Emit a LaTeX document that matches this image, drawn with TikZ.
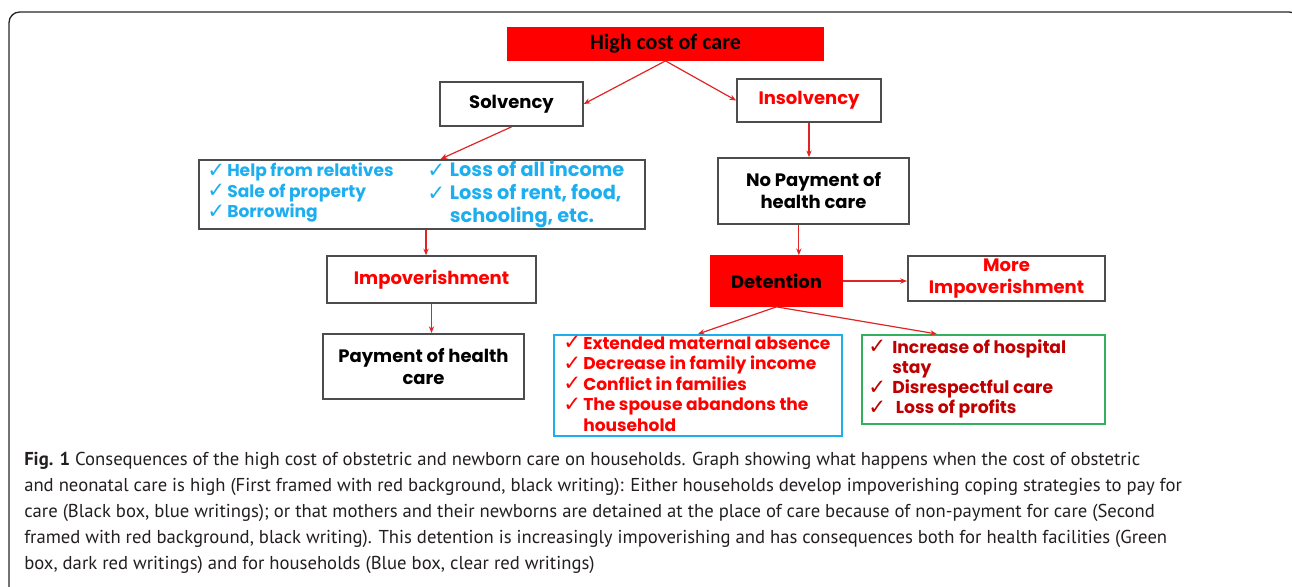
\documentclass[tikz,border=0pt]{standalone}
\usepackage{fontspec}
\setmainfont{PT Sans}
\newfontfamily\boxfont{Poppins}
\newfontfamily\titlefont{Carlito}
\newfontfamily\symfont{DejaVu Sans}
\usetikzlibrary{arrows.meta,calc}
\definecolor{boxred}{HTML}{FF0000}
\definecolor{skyblue}{HTML}{1DAEEF}
\definecolor{darkred}{HTML}{C00000}
\definecolor{framegreen}{HTML}{33B05E}
\definecolor{arrowred}{HTML}{E02424}
\definecolor{captiongray}{HTML}{231F20}
\newcommand{\ck}{\makebox[15pt][l]{\raisebox{-0.5pt}{\symfont\mdseries\fontsize{16}{16}\selectfont\char"2713}}}
\begin{document}
\begin{tikzpicture}[x=0.75pt,y=-0.75pt,
every node/.style={font=\boxfont\bfseries\fontsize{13.5}{16.5}\selectfont},
box/.style={%
draw=black!70,
line width=1.3pt,
align=center,
inner sep=0pt
},
redbox/.style={%
box,
fill=boxred,
draw=boxred
},
list/.style={%
anchor=west,
align=left,
inner sep=0pt,
font=\boxfont\bfseries\fontsize{12.8}{15.4}\selectfont
},
arr/.style={%
draw=arrowred,
line width=0.9pt,
-{Stealth[length=5pt,width=4pt]}
},
caption/.style={%
font=\fontsize{14}{19.5}\selectfont,
text=captiongray,
anchor=north west,
align=left,
inner sep=0pt
}]
\useasboundingbox (0,0) rectangle (1292,586);
\clip (0,0) rectangle (1292,586);
% outer frame
\draw[black!85,line width=1pt,rounded corners=8pt] (9,600) -- (9,12) -- (1300,12) -- (1300,600);
% boxes
\node[redbox,minimum width=236pt,minimum height=24pt,font=\titlefont\bfseries\fontsize{16.5}{18}\selectfont](cost)at(665.5,44){High cost of care};
\node[box,minimum width=107pt,minimum height=33pt](solv)at(511.5,104){Solvency};
\node[box,minimum width=108pt,minimum height=32pt,text=boxred](insolv)at(809,100.5){Insolvency};
\node[box,minimum width=334.5pt,minimum height=52pt](coping)at(422,194.5){};
\node[box,minimum width=157pt,minimum height=35pt,text=boxred](impov)at(431.5,279.5){Impoverishment};
\node[box,minimum width=151pt,minimum height=49pt](pay)at(423.5,366.5){Payment of health\\care};
\node[box,minimum width=143pt,minimum height=49.5pt](nopay)at(813.5,191){No Payment of\\health care};
\node[redbox,minimum width=98pt,minimum height=37.5pt](deten)at(776.5,281){Detention};
\node[box,minimum width=148pt,minimum height=34pt,text=boxred](more)at(1006.5,278.5){More\\Impoverishment};
\node[box,draw=skyblue,minimum width=216pt,minimum height=76pt](house)at(698,385.5){};
\node[box,draw=framegreen,minimum width=182pt,minimum height=67pt](facil)at(983.5,379.5){};
% check lists
\node[list,text=skyblue](copeA)at(207,193){%
\begin{tabular}{@{}l@{}l@{}}
\ck & Help from relatives\\
\ck & Sale of property\\
\ck & Borrowing
\end{tabular}};
\node[list,text=skyblue,font=\boxfont\bfseries\fontsize{14.5}{17.25}\selectfont](copeB)at(427,195){%
\begin{tabular}{@{}l@{\hspace{2pt}}l@{}}
\ck & Loss of all income\\
\ck & Loss of rent, food,\\
 & schooling, etc.
\end{tabular}};
\node[list,text=boxred](houseL)at(563,386){%
\begin{tabular}{@{}l@{}l@{}}
\ck & Extended maternal absence\\
\ck & Decrease in family income\\
\ck & Conflict in families\\
\ck & The spouse abandons the\\
 & household
\end{tabular}};
\node[list,text=darkred,font=\boxfont\bfseries\fontsize{12.9}{15.2}\selectfont](facilL)at(868,379.5){%
\begin{tabular}{@{}l@{\hspace{3pt}}l@{}}
\ck & Increase of hospital\\
 & stay\\
\ck & Disrespectful care\\
\ck & \ Loss of profits
\end{tabular}};
% connectors
\draw[arr] (cost.south) -- (solv.east);
\draw[arr] (cost.south) -- (insolv.west);
\draw[arr] (solv.south) -- ([xshift=14pt]coping.north);
\draw[arr] ([xshift=3pt]coping.south) -- ([xshift=3pt]coping.south |- impov.north);
\draw[arr] (impov.south) -- (impov.south |- pay.north);
\draw[arr] (insolv.south) -- (insolv.south |- nopay.north);
\draw[arr] ([xshift=-11pt]nopay.south) -- ([xshift=-11pt]nopay.south |- deten.north);
\draw[arr] (deten.east) -- (deten.east -| more.west);
\draw[arr] (deten.south) -- (house.north);
\draw[arr] (deten.south) -- ([xshift=-35pt]facil.north);
% caption
\node[caption](cap)at(24,452){%
\textbf{Fig. 1} Consequences of the high cost of obstetric and newborn care on households. Graph showing what happens when the cost of obstetric\\
and neonatal care is high (First framed with red background, black writing): Either households develop impoverishing coping strategies to pay for\\
care (Black box, blue writings); or that mothers and their newborns are detained at the place of care because of non-payment for care (Second\\
framed with red background, black writing). This detention is increasingly impoverishing and has consequences both for health facilities (Green\\
box, dark red writings) and for households (Blue box, clear red writings)};
\end{tikzpicture}
\end{document}
